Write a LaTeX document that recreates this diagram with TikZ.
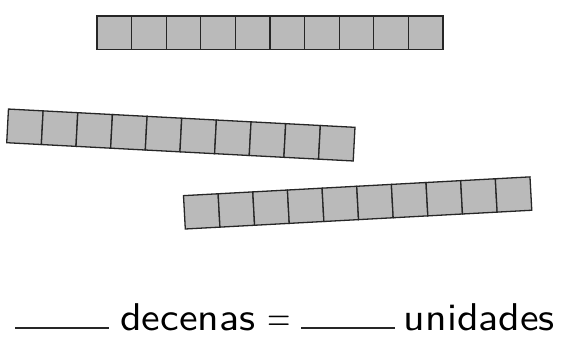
\documentclass[tikz,border=0pt]{standalone}
\begin{document}
\begin{tikzpicture}[x=1pt,y=1pt,
  cell/.style={fill=black!27,draw=black!85,line width=1.3pt},
  lbl/.style={inner sep=0pt,anchor=base west,scale=3.87,xscale=1.08,font=\sffamily\fontsize{10}{12}\selectfont},
  blank/.style={line width=2pt,draw=black!85}]
\useasboundingbox[fill=white] (0,0) rectangle (565,349);
% bar 1 (horizontal)
\begin{scope}[shift={(97,299.5)}]
  \foreach \i in {0,...,9} \draw[cell] (\i*34.6,0) rectangle ++(34.6,33.5);
\end{scope}
% bar 2 (tilted down)
\begin{scope}[shift={(6.7,206.3)},rotate=-3.02]
  \foreach \i in {0,...,9} \draw[cell] (\i*34.7,0) rectangle ++(34.7,33.7);
\end{scope}
% bar 3 (tilted up)
\begin{scope}[shift={(185.3,120)},rotate=3.1]
  \foreach \i in {0,...,9} \draw[cell] (\i*34.7,0) rectangle ++(34.7,33.4);
\end{scope}
% text line
\coordinate (u1a) at (15,20.7);
\coordinate (u1b) at (109,20.7);
\coordinate (u2a) at (301,20.7);
\coordinate (u2b) at (395,20.7);
\draw[blank] (u1a) -- (u1b);
\draw[blank] (u2a) -- (u2b);
\node[lbl] (dec) at (119.5,18.5) {decenas};
\node[lbl,xscale=0.72] (eq) at (267.3,18.5) {=};
\node[lbl] (uni) at (403,18.5) {unidades};
\end{tikzpicture}
\end{document}
